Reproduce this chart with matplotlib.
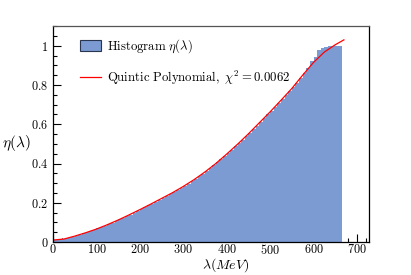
import numpy as np
import matplotlib
matplotlib.use('Agg')
import matplotlib.pyplot as plt
from matplotlib.ticker import MultipleLocator, FuncFormatter

plt.rc('mathtext', fontset='cm')
plt.rc('font', family='serif', serif=['Liberation Serif', 'DejaVu Serif'])

# histogram: 80 bins of equal width between 0 and ~667 MeV
bin_lo = 0.0
bin_hi = 666.7
eta_hist = [0.011, 0.012, 0.014, 0.017, 0.022, 0.027, 0.033, 0.038, 0.044, 0.050,
            0.056, 0.062, 0.069, 0.076, 0.083, 0.091, 0.099, 0.107, 0.115, 0.124,
            0.132, 0.140, 0.149, 0.158, 0.168, 0.177, 0.186, 0.196, 0.205, 0.215,
            0.225, 0.234, 0.244, 0.254, 0.265, 0.275, 0.287, 0.298, 0.310, 0.322,
            0.335, 0.348, 0.362, 0.376, 0.391, 0.406, 0.422, 0.438, 0.454, 0.470,
            0.487, 0.504, 0.521, 0.538, 0.556, 0.575, 0.593, 0.612, 0.631, 0.650,
            0.669, 0.688, 0.708, 0.728, 0.748, 0.768, 0.790, 0.812, 0.836, 0.862,
            0.885, 0.920, 0.945, 0.980, 0.990, 0.995, 1.000, 1.000, 1.000, 1.000]

# quintic fit curve
lam_fit = [0, 25, 50, 75, 100, 125, 150, 175, 200, 225, 250, 275, 300, 325,
           350, 375, 400, 425, 450, 475, 500, 525, 550, 575, 600, 625, 650, 670]
eta_fit = [0.010, 0.015, 0.030, 0.047, 0.066, 0.088, 0.112, 0.138, 0.165, 0.193,
           0.222, 0.251, 0.283, 0.318, 0.357, 0.400, 0.448, 0.498, 0.551, 0.607,
           0.663, 0.722, 0.782, 0.850, 0.915, 0.968, 1.005, 1.030]

fig = plt.figure(figsize=(4.11, 2.75), dpi=100)
ax = fig.add_axes([0.129, 0.12, 0.769, 0.785])

edges = np.linspace(bin_lo, bin_hi, len(eta_hist) + 1)
ax.stairs(eta_hist, edges, fill=True, color='#7b9bd2', lw=0)
ax.plot(lam_fit, eta_fit, color='red', lw=0.9)

# legend drawn with proxies
h1 = plt.Rectangle((0, 0), 1, 1, facecolor='#7b9bd2', edgecolor='#2a3550', lw=0.8)
h2, = ax.plot([], [], color='red', lw=0.9)
ax.legend([h1, h2], [r'$\mathrm{Histogram}\ \eta(\lambda)$',
                     r'$\mathrm{Quintic\ Polynomial,}\ \chi^2 = 0.0062$'],
          loc='upper left', bbox_to_anchor=(0.05, 1.0), frameon=False,
          fontsize=9.2, labelspacing=1.05, handlelength=1.6, handleheight=0.85,
          handletextpad=0.45)

ax.set_xlim(0, 728)
ax.set_ylim(0, 1.1)
ax.xaxis.set_major_locator(MultipleLocator(100))
ax.xaxis.set_minor_locator(MultipleLocator(20))
ax.yaxis.set_major_locator(MultipleLocator(0.2))
ax.yaxis.set_minor_locator(MultipleLocator(0.05))
ax.xaxis.set_major_formatter(FuncFormatter(lambda v, p: r'$%g$' % round(v, 2)))
ax.yaxis.set_major_formatter(FuncFormatter(lambda v, p: r'$%g$' % round(v, 2)))
ax.tick_params(which='both', direction='in', top=False, right=False, labelsize=8.8, width=0.8)
ax.tick_params(which='major', length=6)
ax.tick_params(which='minor', length=3)
ax.tick_params(axis='x', pad=1)
ax.set_axisbelow(True)

for s in ax.spines.values():
    s.set_linewidth(0.9)
    s.set_zorder(3)
ax.spines['top'].set_color('#555555')

ax.set_xlabel(r'$\lambda(MeV)$', fontsize=10)
ax.xaxis.set_label_coords(0.545, -0.066)
ax.set_ylabel(r'$\eta(\lambda)$', fontsize=11, rotation=0)
ax.yaxis.set_label_coords(-0.115, 0.41)

fig.savefig('out.png', dpi=100)
